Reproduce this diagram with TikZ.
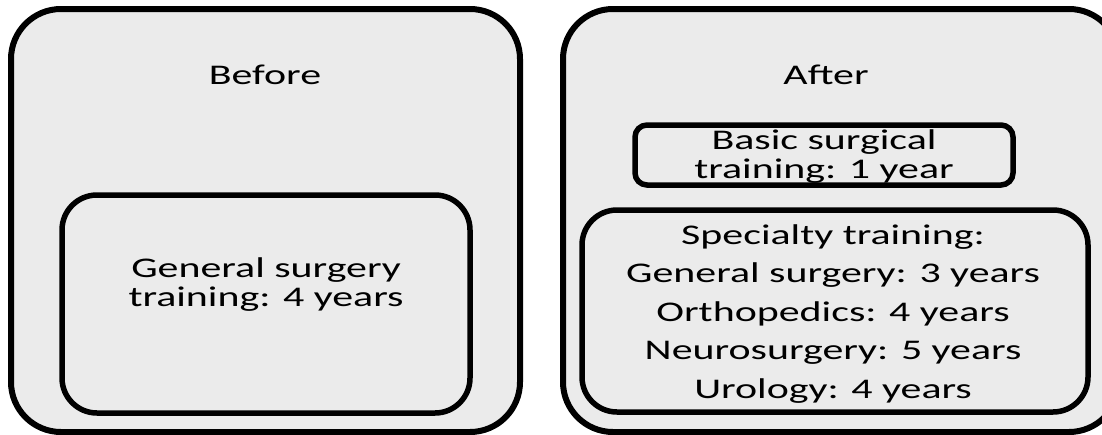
\documentclass[tikz,border=0pt]{standalone}
\usepackage{fontspec}
\setmainfont[FakeStretch=1.47]{Carlito}
\usetikzlibrary{positioning}
\definecolor{boxgray}{HTML}{EBEBEB}

\begin{document}
\begin{tikzpicture}[x=1pt,y=-1pt,every node/.style={font=\fontsize{28.5}{29}\selectfont,align=center,inner sep=0pt},
  outer/.style={draw,fill=boxgray,line width=6pt,rounded corners=50pt},
  inner/.style={draw,fill=boxgray,line width=5.5pt,rounded corners=35pt}]
  \useasboundingbox (0,0) rectangle (1102,434);
  \clip (0,0) rectangle (1102,434);
  % the two panels
  \node[outer,minimum width=509pt,minimum height=423pt] (before) at (265.5,220.5) {};
  \node[outer,minimum width=556pt,minimum height=423pt,anchor=west] (after) at (560,220.5) {};
  \node (beforetitle) at (265,75) {Before};
  \node (aftertitle) at (826,75) {After};
  % before
  \node[inner,minimum width=408pt,minimum height=218pt] (general) at (266,304) {};
  \node (generaltext) at (266,285) {General surgery\\training: 4 years};
  % after
  \node[inner,rounded corners=12pt,minimum width=378pt,minimum height=60pt] (basic) at (824,155) {};
  \node (basictext) at (824,157) {Basic surgical\\training: 1 year};
  \node[inner,minimum width=506pt,minimum height=202pt] (specialty) at (835,311) {};
  \node[font=\fontsize{28.5}{38.5}\selectfont] (specialtytext) at (833,314) {Specialty training:\\General surgery: 3 years\\Orthopedics: 4 years\\Neurosurgery: 5 years\\Urology: 4 years};
\end{tikzpicture}
\end{document}
